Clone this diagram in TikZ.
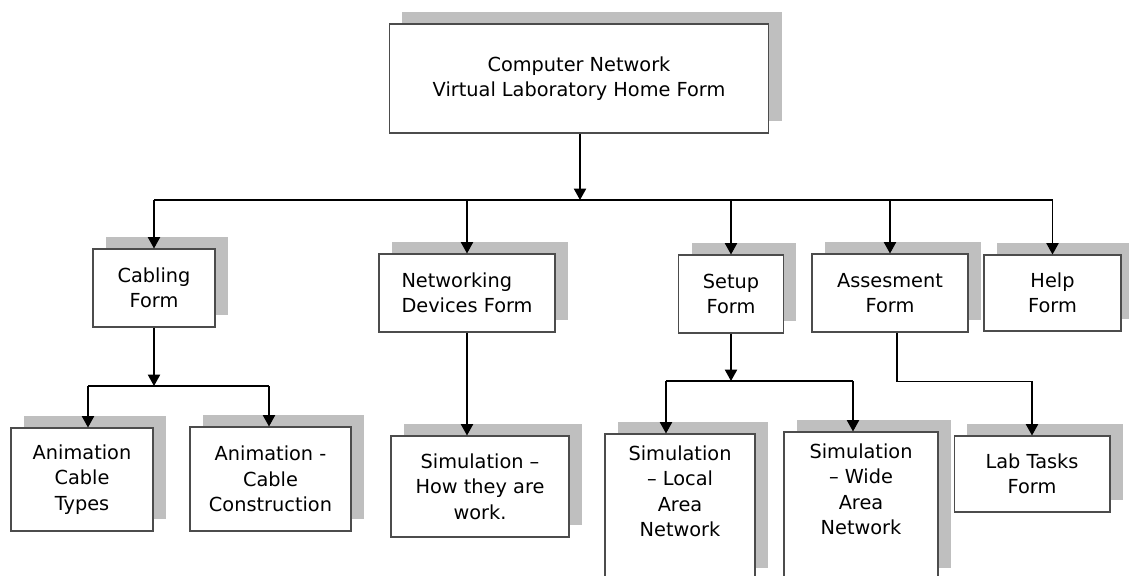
\documentclass[tikz,border=0pt]{standalone}
\usepackage{fontspec}
\setmainfont{DejaVu Sans}
\usepackage{tikz}
\usetikzlibrary{shadows,arrows.meta}

\tikzset{
  form/.style={draw=black!70, line width=0.6pt, fill=white, align=center,
    drop shadow={shadow xshift=0.26cm, shadow yshift=0.24cm, fill=black!25, opacity=1}},
  link/.style={line width=0.7pt, -{Triangle[width=7pt,length=6.5pt]}},
  bar/.style={line width=0.7pt},
}

\begin{document}
\begin{tikzpicture}[x=0.02cm, y=-0.02cm, font=\fontsize{11}{14.5}\selectfont]
  \useasboundingbox (0,0) rectangle (1129,575);
  % first row
  \node[form, minimum width=7.6cm, minimum height=2.18cm] (home) at (579,78.5)
    {Computer Network\\Virtual Laboratory Home Form};
  \node[form, minimum width=2.44cm, minimum height=1.56cm] (cabling) at (154,288) {Cabling\\Form};
  \node[form, minimum width=3.52cm, minimum height=1.56cm, align=left] (netdev) at (467,293)
    {Networking\\Devices Form};
  \node[form, minimum width=2.1cm, minimum height=1.56cm] (setup) at (731,294) {Setup\\Form};
  \node[form, minimum width=3.12cm, minimum height=1.56cm] (assess) at (890,293) {Assesment\\Form};
  \node[form, minimum width=2.74cm, minimum height=1.52cm] (help) at (1052.5,293) {Help\\Form};
  % second row
  \node[form, minimum width=2.84cm, minimum height=2.06cm] (animtypes) at (82,479.5)
    {Animation\\Cable\\Types};
  \node[form, minimum width=3.22cm, minimum height=2.08cm] (animcons) at (270.5,479)
    {Animation -\\Cable\\Construction};
  \node[form, minimum width=3.56cm, minimum height=2.02cm] (simhow) at (480,486.5)
    {Simulation –\\How they are\\work.};
  \node[form, minimum width=3cm, minimum height=2.92cm] (lan) at (680,507) {};
  \node[anchor=north, align=center] (lanT) at ([yshift=-0.12cm]lan.north)
    {Simulation\\– Local\\Area\\Network};
  \node[form, minimum width=3.08cm, minimum height=2.96cm] (wan) at (861,506) {};
  \node[anchor=north, align=center] (wanT) at ([yshift=-0.12cm]wan.north)
    {Simulation\\– Wide\\Area\\Network};
  \node[form, minimum width=3.12cm, minimum height=1.52cm] (labtasks) at (1032,474) {Lab Tasks\\Form};

  % connectors
  \coordinate (bus) at (580,200);
  \draw[link] (home.south -| bus) -- (bus);
  \draw[bar] (cabling.north |- bus) -- (help.north |- bus);
  \foreach \f in {cabling,netdev,setup,assess,help}
    \draw[link] (\f.north |- bus) -- (\f.north);

  \coordinate (cabL) at (88,386);
  \coordinate (cabR) at (269,386);
  \draw[link] (cabling.south) -- (cabling.south |- cabL);
  \draw[bar] (cabL) -- (cabR);
  \draw[link] (cabL) -- (cabL |- animtypes.north);
  \draw[link] (cabR) -- (cabR |- animcons.north);

  \draw[link] (netdev.south) -- (netdev.south |- simhow.north);

  \coordinate (setL) at (666,381);
  \coordinate (setR) at (853,381);
  \draw[link] (setup.south) -- (setup.south |- setL);
  \draw[bar] (setL) -- (setR);
  \draw[link] (setL) -- (setL |- lan.north);
  \draw[link] (setR) -- (setR |- wan.north);

  \draw[link] ([xshift=0.14cm]assess.south) -- ++(0,49) -| (labtasks.north);
\end{tikzpicture}
\end{document}
